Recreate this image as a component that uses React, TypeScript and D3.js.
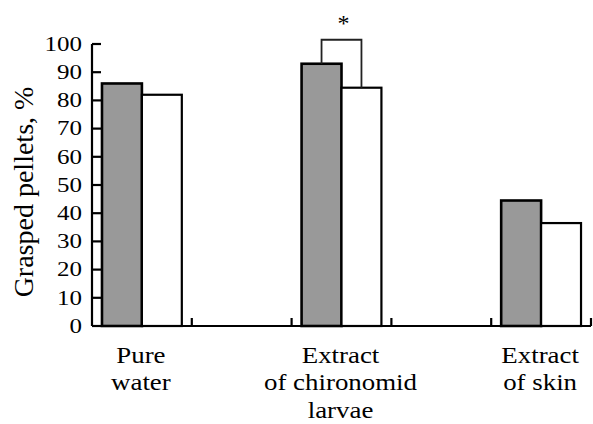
import * as d3 from "d3";

// категории по оси X (2-я и 4-я пустые, как в исходном графике)
const categories = ["Pure water", "empty1", "Extract of chironomid larvae", "empty2", "Extract of skin"];
const categoryLines = [["Pure", "water"], [], ["Extract", "of chironomid", "larvae"], [], ["Extract", "of skin"]];
const seriesNames = ["gray", "white"];
const grayValues = [86, null, 93, null, 44.5];
const whiteValues = [82, null, 84.5, null, 36.5];
const yTicks = [0, 10, 20, 30, 40, 50, 60, 70, 80, 90, 100];
const bracketTop = 101.5;
const bracketCategory = "Extract of chironomid larvae";

const W = 593;
const H = 424;
const fontStyle = { fontFamily: "'Liberation Serif'" };

const margin = { top: 44, bottom: 98, left: 92, right: 2 };

const scaleX = d3.scaleBand()
	.domain(categories)
	.range([margin.left, W - margin.right])
	.padding(0);

const scaleInner = d3.scaleBand()
	.domain(seriesNames)
	.range([0, scaleX.bandwidth()])
	.paddingInner(0)
	.paddingOuter(0.25);

const scaleY = d3.scaleLinear()
	.domain([0, 100])
	.range([H - margin.bottom, margin.top]);

const App = () => {
	const y0 = scaleY(0);
	const bw = scaleInner.bandwidth();

	const bars = (values, name, fill, sw) =>
		categories.map((c, i) => values[i] == null ? null : (
			<rect key={name + i}
				x={scaleX(c) + scaleInner(name)}
				y={scaleY(values[i])}
				width={bw}
				height={y0 - scaleY(values[i])}
				fill={fill} stroke="#000" strokeWidth={sw} />
		));

	// скобка значимости
	const bi = categories.indexOf(bracketCategory);
	const gx = scaleX(bracketCategory) + scaleInner("gray") + bw / 2;
	const wx = scaleX(bracketCategory) + scaleInner("white") + bw / 2;
	const p = d3.path();
	p.moveTo(gx, scaleY(grayValues[bi]));
	p.lineTo(gx, scaleY(bracketTop));
	p.lineTo(wx, scaleY(bracketTop));
	p.lineTo(wx, scaleY(whiteValues[bi]));

	const bounds = categories.map(c => scaleX(c) + scaleX.bandwidth());

	return (
		<svg width={W} height={H} style={{ position: "absolute", left: 0, top: 0, background: "#fff" }} fill="#000">
			{bars(grayValues, "gray", "#999999", 2.6)}
			{bars(whiteValues, "white", "#ffffff", 2.2)}

			<path d={p.toString()} fill="none" stroke="#222" strokeWidth={1.8} />
			<text x={(gx + wx) / 2 + 2} y={scaleY(bracketTop) - 9} textAnchor="middle" fontSize={24} style={fontStyle}>*</text>

			{/* ось Y */}
			<line x1={margin.left} x2={margin.left} y1={scaleY(100)} y2={y0} stroke="#000" strokeWidth={2.2} />
			{yTicks.map(t => (
				<g key={t}>
					<line x1={margin.left} x2={margin.left + 9} y1={scaleY(t)} y2={scaleY(t)} stroke="#000" strokeWidth={2.2} />
					<text transform={`translate(${margin.left - 10}, ${scaleY(t) + 6.8}) scale(1.25, 1)`}
						textAnchor="end" fontSize={20} style={fontStyle}>{t}</text>
				</g>
			))}

			{/* ось X */}
			<line x1={margin.left} x2={W - margin.right} y1={y0} y2={y0} stroke="#000" strokeWidth={2.2} />
			{bounds.map((b, i) => (
				<line key={i} x1={b} x2={b} y1={y0} y2={y0 - 8} stroke="#000" strokeWidth={2.2} />
			))}
			{categories.map((c, i) => (
				<text key={c} textAnchor="middle" fontSize={24} style={fontStyle}
					transform={`translate(${scaleX(c) + scaleX.bandwidth() / 2 - 1}, ${y0 + 37}) scale(1.12, 1)`}>
					{categoryLines[i].map((l, j) => (
						<tspan key={j} x={0} y={j * 27.5}>{l}</tspan>
					))}
				</text>
			))}

			{/* подпись оси Y */}
			<text transform={`translate(33, 192) rotate(-90)`} textAnchor="middle" fontSize={28} style={fontStyle}>
				Grasped pellets, %
			</text>
		</svg>
	);
};

export default App;
